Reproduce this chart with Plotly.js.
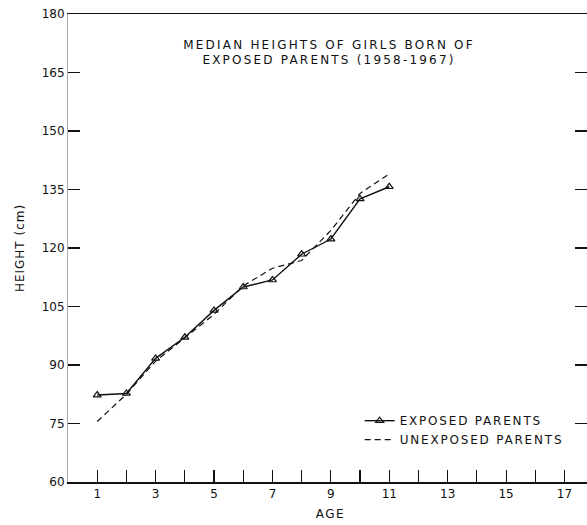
<!DOCTYPE html>
<html>
<head>
<meta charset="utf-8">
<script src="https://cdn.plot.ly/plotly-3.0.1.min.js"></script>
<style>
html,body{margin:0;padding:0;background:#fff;}
#chart{width:587px;height:525px;}
#chart .gtitle{letter-spacing:2.2px;}
#chart text.legendtext{letter-spacing:1.8px;}
#chart .legend, #chart .legend *{clip-path:none !important;}
#chart .ytitle{letter-spacing:1px;}
#chart .annotation-text{letter-spacing:1.5px;}
</style>
</head>
<body>
<div id="chart"></div>
<script>
// Data
var ages = [1, 2, 3, 4, 5, 6, 7, 8, 9, 10, 11];
var exposedHeights = [82.3, 82.7, 91.7, 97.1, 104.0, 110.0, 111.8, 118.4, 122.3, 132.6, 135.7];
var unexposedHeights = [75.5, 82.5, 91.0, 97.0, 103.0, 110.3, 114.8, 116.8, 124.5, 134.0, 139.0];

var xTickVals = [1, 2, 3, 4, 5, 6, 7, 8, 9, 10, 11, 12, 13, 14, 15, 16, 17];
var xTickText = ["1", "", "3", "", "5", "", "7", "", "9", "", "11", "", "13", "", "15", "", "17"];
var yTickVals = [60, 75, 90, 105, 120, 135, 150, 165, 180];

var FONT = "DejaVu Sans, Liberation Sans, sans-serif";

var traces = [
  {
    x: ages, y: exposedHeights, name: "EXPOSED PARENTS",
    mode: "lines+markers", type: "scatter",
    line: {color: "#111", width: 1.4},
    marker: {symbol: "triangle-up-open", size: 7, color: "#111", line: {width: 1.2, color: "#111"}}
  },
  {
    x: ages, y: unexposedHeights, name: "UNEXPOSED PARENTS",
    mode: "lines", type: "scatter",
    line: {color: "#111", width: 1.2, dash: "6px,4px"}
  }
];

var layout = {
  width: 587, height: 525,
  margin: {l: 68, r: 0, t: 14, b: 43},
  paper_bgcolor: "#fff", plot_bgcolor: "#fff",
  font: {family: FONT, size: 12, color: "#111"},
  showlegend: true,
  legend: {
    x: 0.562, y: 0.162, xanchor: "left", yanchor: "top",
    bgcolor: "rgba(0,0,0,0)", font: {family: FONT, size: 12, color: "#111"},
    tracegroupgap: 0, itemwidth: 30
  },
  title: {
    text: "MEDIAN HEIGHTS OF GIRLS BORN OF<br>EXPOSED PARENTS (1958-1967)",
    font: {family: FONT, size: 12, color: "#111"},
    xref: "paper", x: 0.503, xanchor: "center",
    yref: "container", y: 0.907, yanchor: "middle"
  },
  annotations: [{
    text: "AGE", xref: "paper", yref: "paper", x: 0.505, y: 0,
    xanchor: "center", yanchor: "middle", yshift: -32, showarrow: false,
    font: {family: FONT, size: 12, color: "#111"}
  }],
  xaxis: {
    range: [0, 17.77],
    tickmode: "array", tickvals: xTickVals, ticktext: xTickText,
    ticks: "inside", ticklen: 12, tickwidth: 1.2, tickcolor: "#111",
    showline: true, linecolor: "#111", linewidth: 1.5, mirror: true,
    showgrid: false, zeroline: false,
    tickfont: {family: FONT, size: 12, color: "#111"}
  },
  yaxis: {
    range: [60, 180],
    tickmode: "array", tickvals: yTickVals,
    ticks: "inside", ticklen: 12, tickwidth: 1.5, tickcolor: "#111",
    showline: true, linecolor: "#aaa", linewidth: 1, mirror: "ticks",
    showgrid: false, zeroline: false,
    tickfont: {family: FONT, size: 12, color: "#111"},
    title: {text: "HEIGHT (cm)", font: {family: FONT, size: 12, color: "#111"}, standoff: 14}
  }
};

Plotly.newPlot("chart", traces, layout, {displayModeBar: false, staticPlot: true});
</script>
</body>
</html>
